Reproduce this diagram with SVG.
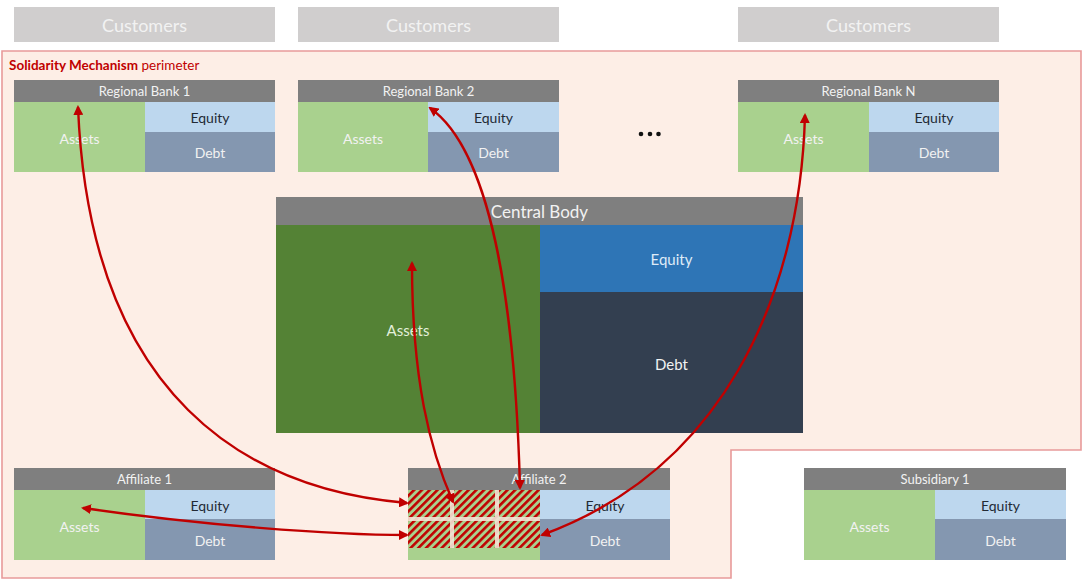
<svg xmlns="http://www.w3.org/2000/svg" width="1082" height="580" viewBox="0 0 1082 580">
  <defs>
    <style>
      text { font-family: Lato, "Open Sans", "Liberation Sans", sans-serif; text-anchor: middle; dominant-baseline: central; }
      .cust { fill: #d0cece; }
      .cust-t { fill: #f2f2f2; font-size: 18px; }
      .hdr { fill: #7f7f7f; }
      .hdr-t { fill: #f2f2f2; font-size: 13px; }
      .ast { fill: #a9d18e; }
      .eq { fill: #bdd7ee; }
      .dbt { fill: #8497b0; }
      .ast-t { fill: #f2f2f2; font-size: 14px; }
      .eq-t { fill: #222a35; font-size: 14px; }
      .dbt-t { fill: #f2f2f2; font-size: 14px; }
      .link { fill: none; stroke: #c00000; stroke-width: 2.4; marker-start: url(#head); marker-end: url(#head); }
    </style>
    <marker id="head" viewBox="0 0 10 10" refX="8" refY="5" markerWidth="4.2" markerHeight="4.2" orient="auto-start-reverse">
      <path d="M0,0 L10,5 L0,10 z" fill="#c00000"/>
    </marker>
    <pattern id="hatch" width="5.5" height="5.5" patternUnits="userSpaceOnUse" patternTransform="rotate(45)">
      <rect width="5.5" height="5.5" fill="#a9d18e"/>
      <rect width="2.6" height="5.5" fill="#c00000"/>
    </pattern>
  </defs>

  <!-- customer bars -->
  <g id="customers-1"><rect class="cust" x="14" y="7" width="261" height="35"/><text class="cust-t" x="144.5" y="24.5">Customers</text></g>
  <g id="customers-2"><rect class="cust" x="298" y="7" width="261" height="35"/><text class="cust-t" x="428.5" y="24.5">Customers</text></g>
  <g id="customers-n"><rect class="cust" x="738" y="7" width="261" height="35"/><text class="cust-t" x="868.5" y="24.5">Customers</text></g>

  <!-- solidarity perimeter -->
  <g id="perimeter">
    <path d="M2,51 H1081 V450 H731 V578 H2 Z" fill="#fdeee6" stroke="#e89a9a" stroke-width="1.6"/>
    <text x="9" y="65" style="text-anchor:start;font-size:13.5px;fill:#c00000"><tspan font-weight="bold">Solidarity Mechanism</tspan> perimeter</text>
  </g>

  <!-- regional banks -->
  <g id="regional-bank-1">
    <rect class="hdr" x="14" y="80" width="261" height="22"/><text class="hdr-t" x="144.5" y="91">Regional Bank 1</text>
    <rect class="ast" x="14" y="102" width="131" height="70"/><text class="ast-t" x="79.5" y="138">Assets</text>
    <rect class="eq" x="145" y="102" width="130" height="30"/><text class="eq-t" x="210" y="117">Equity</text>
    <rect class="dbt" x="145" y="132" width="130" height="40"/><text class="dbt-t" x="210" y="152">Debt</text>
  </g>
  <g id="regional-bank-2">
    <rect class="hdr" x="298" y="80" width="261" height="22"/><text class="hdr-t" x="428.5" y="91">Regional Bank 2</text>
    <rect class="ast" x="298" y="102" width="130" height="70"/><text class="ast-t" x="363" y="138">Assets</text>
    <rect class="eq" x="428" y="102" width="131" height="30"/><text class="eq-t" x="493.5" y="117">Equity</text>
    <rect class="dbt" x="428" y="132" width="131" height="40"/><text class="dbt-t" x="493.5" y="152">Debt</text>
  </g>
  <g id="ellipsis">
    <circle cx="641" cy="134" r="2.3" fill="#111"/><circle cx="650" cy="134" r="2.3" fill="#111"/><circle cx="658.5" cy="134" r="2.3" fill="#111"/>
  </g>
  <g id="regional-bank-n">
    <rect class="hdr" x="738" y="80" width="261" height="22"/><text class="hdr-t" x="868.5" y="91">Regional Bank N</text>
    <rect class="ast" x="738" y="102" width="131" height="70"/><text class="ast-t" x="803.5" y="138">Assets</text>
    <rect class="eq" x="869" y="102" width="130" height="30"/><text class="eq-t" x="934" y="117">Equity</text>
    <rect class="dbt" x="869" y="132" width="130" height="40"/><text class="dbt-t" x="934" y="152">Debt</text>
  </g>

  <!-- central body -->
  <g id="central-body">
    <rect class="hdr" x="276" y="197" width="527" height="28"/><text x="539.5" y="211" style="fill:#f2f2f2;font-size:17px">Central Body</text>
    <rect x="276" y="225" width="264" height="208" fill="#548235"/><text x="408" y="330" style="fill:#e2efda;font-size:15px">Assets</text>
    <rect x="540" y="225" width="263" height="67" fill="#2e75b6"/><text x="671.5" y="259" style="fill:#deebf7;font-size:15px">Equity</text>
    <rect x="540" y="292" width="263" height="141" fill="#333f50"/><text x="671.5" y="364" style="fill:#f2f2f2;font-size:15px">Debt</text>
  </g>

  <!-- affiliates and subsidiary -->
  <g id="affiliate-1">
    <rect class="hdr" x="14" y="468" width="261" height="22"/><text class="hdr-t" x="144.5" y="479">Affiliate 1</text>
    <rect class="ast" x="14" y="490" width="131" height="70"/><text class="ast-t" x="79.5" y="526">Assets</text>
    <rect class="eq" x="145" y="490" width="130" height="29"/><text class="eq-t" x="210" y="505">Equity</text>
    <rect class="dbt" x="145" y="519" width="130" height="41"/><text class="dbt-t" x="210" y="540">Debt</text>
  </g>
  <g id="affiliate-2">
    <rect class="hdr" x="408" y="468" width="262" height="22"/><text class="hdr-t" x="539" y="479">Affiliate 2</text>
    <rect class="ast" x="408" y="490" width="132" height="70"/>
    <rect x="408" y="490" width="132" height="58" fill="url(#hatch)"/>
    <path d="M452,490 V548 M497,490 V548 M408,519 H540" stroke="#f3e3d6" stroke-width="4" fill="none" opacity="0.9"/>
    <rect class="eq" x="540" y="490" width="130" height="29"/><text class="eq-t" x="605" y="505">Equity</text>
    <rect class="dbt" x="540" y="519" width="130" height="41"/><text class="dbt-t" x="605" y="540">Debt</text>
  </g>
  <g id="subsidiary-1">
    <rect class="hdr" x="804" y="468" width="262" height="22"/><text class="hdr-t" x="935" y="479">Subsidiary 1</text>
    <rect class="ast" x="804" y="490" width="131" height="70"/><text class="ast-t" x="869.5" y="526">Assets</text>
    <rect class="eq" x="935" y="490" width="131" height="29"/><text class="eq-t" x="1000.5" y="505">Equity</text>
    <rect class="dbt" x="935" y="519" width="131" height="41"/><text class="dbt-t" x="1000.5" y="540">Debt</text>
  </g>

  <!-- solidarity flows -->
  <g id="connectors">
    <path class="link" d="M407,503 C250,490 90,400 78,107"/>
    <path class="link" d="M83,508 C200,525 330,535 407,535"/>
    <path class="link" d="M453,502 C430,450 412,380 412,263"/>
    <path class="link" d="M520,488 C515,300 490,150 430,108"/>
    <path class="link" d="M805,115 C800,300 720,470 542,535"/>
  </g>
</svg>
